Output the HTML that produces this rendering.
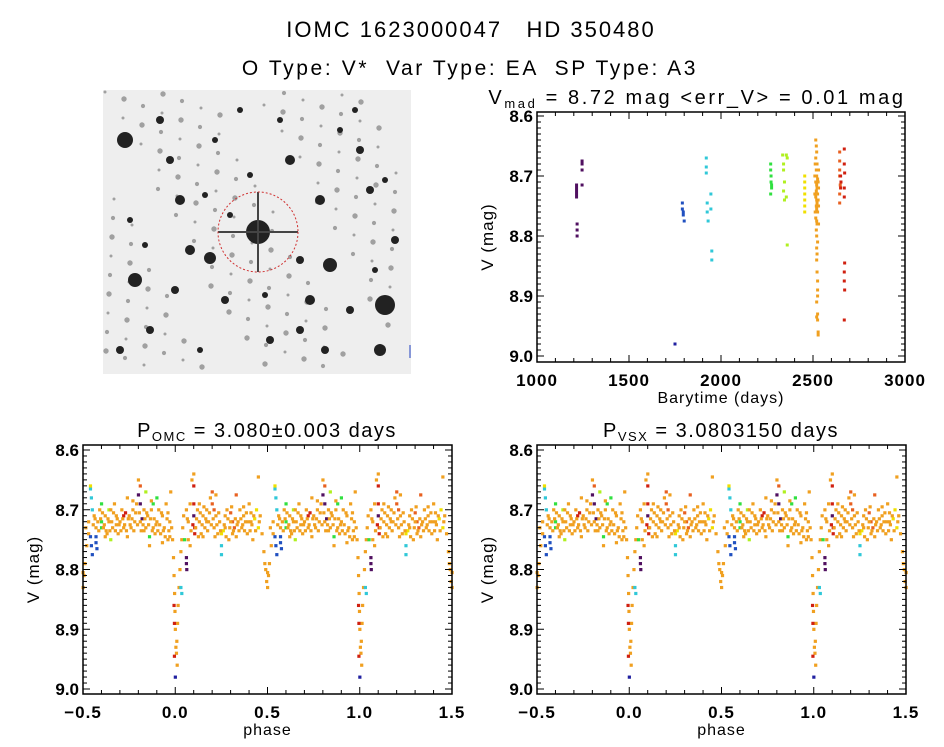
<!DOCTYPE html>
<html><head><meta charset="utf-8">
<style>
body{margin:0;background:#fff;}
svg{display:block;font-family:"Liberation Sans","DejaVu Sans",sans-serif;}
</style></head>
<body>
<svg id="c" width="944" height="747" viewBox="0 0 944 747">
<rect width="944" height="747" fill="#fff"/>
<text x="471" y="37" text-anchor="middle" font-size="22" letter-spacing="2">IOMC 1623000047 &#160;&#160;HD 350480</text>
<text x="470" y="75" text-anchor="middle" font-size="21" letter-spacing="2.6">O Type: V* &#160;Var Type: EA &#160;SP Type: A3</text>
<g id="img"></g>
<g id="p1"></g>
<g id="p2"></g>
<g id="p3"></g>
</svg>
<script>
const NS="http://www.w3.org/2000/svg";
const palette=["#2020a0","#2050c0","#30c8d8","#30e040","#b0f020","#f0e000","#f0a020","#e86020","#d02010","#501060"];
// time series: [time, mag, colorIndex]
const timeData=[
[1215,8.715,9],[1215,8.72,9],[1215,8.725,9],[1215,8.73,9],[1215,8.735,9],[1218,8.78,9],[1218,8.79,9],[1218,8.80,9],[1245,8.675,9],[1245,8.68,9],[1245,8.69,9],[1245,8.715,9],
[1750,8.98,0],
[1790,8.745,1],[1790,8.755,1],[1795,8.76,1],[1795,8.765,1],[1800,8.775,1],
[1920,8.67,2],[1920,8.685,2],[1920,8.695,2],[1925,8.745,2],[1925,8.76,2],[1930,8.775,2],[1945,8.73,2],[1945,8.755,2],[1950,8.825,2],[1950,8.84,2],
[2270,8.68,3],[2270,8.69,3],[2272,8.70,3],[2272,8.71,3],[2275,8.715,3],[2275,8.72,3],[2270,8.73,3],
[2335,8.665,4],[2340,8.68,4],[2340,8.69,4],[2345,8.71,4],[2340,8.725,4],[2345,8.74,4],[2355,8.665,4],[2360,8.67,4],[2355,8.735,4],[2360,8.815,4],
[2455,8.70,5],[2455,8.71,5],[2455,8.72,5],[2455,8.73,5],[2455,8.74,5],[2455,8.75,5],[2455,8.76,5],
[2515,8.64,6],[2518,8.65,6],[2520,8.66,6],[2515,8.67,6],[2522,8.68,6],[2518,8.69,6],[2520,8.70,6],[2525,8.705,6],[2515,8.71,6],[2520,8.715,6],[2522,8.72,6],[2518,8.725,6],[2525,8.73,6],[2515,8.735,6],[2520,8.74,6],[2522,8.745,6],[2518,8.75,6],[2520,8.755,6],[2525,8.76,6],[2515,8.77,6],[2520,8.775,6],[2522,8.78,6],[2518,8.79,6],[2520,8.80,6],[2525,8.81,6],[2520,8.82,6],[2522,8.83,6],[2520,8.84,6],[2522,8.86,6],[2525,8.875,6],[2525,8.89,6],[2525,8.90,6],[2520,8.91,6],[2525,8.93,6],[2520,8.935,6],[2525,8.94,6],[2528,8.96,6],[2528,8.965,6],[2530,8.69,6],[2530,8.72,6],[2530,8.75,6],[2510,8.70,6],[2510,8.73,6],[2512,8.68,6],[2528,8.71,6],[2528,8.74,6],[2512,8.76,6],[2530,8.78,6],
[2645,8.66,7],[2645,8.675,7],[2645,8.69,7],[2645,8.70,7],[2648,8.715,7],[2645,8.73,7],[2645,8.745,7],[2650,8.70,8],[2652,8.71,8],[2650,8.72,8],
[2670,8.655,8],[2670,8.68,8],[2672,8.695,8],[2670,8.72,8],[2670,8.735,8],[2672,8.845,8],[2670,8.86,8],[2670,8.875,8],[2672,8.89,8],[2670,8.94,8]
];
// phase-folded data: [phase(0..1), mag, colorIndex]
const phaseData=[
[0.985,8.75,6],[0.99,8.78,6],[0.993,8.81,6],[0.996,8.84,6],[0.998,8.87,6],[0.0,8.90,6],[0.003,8.93,6],[0.006,8.94,6],[0.008,8.92,6],[0.01,8.96,6],[0.012,8.89,6],[0.015,8.86,6],[0.02,8.83,6],[0.025,8.80,6],[0.03,8.77,6],[0.035,8.75,6],[0.04,8.73,6],[0.045,8.71,6],
[0.0,8.98,0],[0.995,8.945,8],[0.995,8.89,8],[0.993,8.86,8],[0.06,8.78,9],[0.06,8.79,9],[0.062,8.80,9],[0.03,8.83,2],[0.035,8.84,2],[0.05,8.75,3],
[0.47,8.74,6],[0.48,8.77,6],[0.49,8.80,6],[0.495,8.82,6],[0.5,8.83,6],[0.505,8.81,6],[0.51,8.79,6],[0.52,8.76,6],[0.53,8.74,6],[0.485,8.79,6],[0.5,8.805,6],
[0.54,8.665,2],[0.545,8.68,2],[0.55,8.70,2],[0.54,8.745,1],[0.545,8.76,1],[0.55,8.775,1],[0.57,8.745,1],[0.57,8.755,1],[0.575,8.765,1],[0.54,8.66,5],[0.6,8.69,3],[0.6,8.72,3],[0.6,8.73,3],[0.64,8.70,4],[0.65,8.75,4],
[0.1,8.66,8],[0.1,8.69,8],[0.1,8.71,9],[0.105,8.73,8],[0.105,8.74,8],[0.095,8.725,8],[0.2,8.67,7],[0.2,8.69,7],[0.21,8.70,7],[0.3,8.705,7],[0.31,8.72,7],[0.32,8.73,7],[0.33,8.675,7],[0.72,8.71,8],[0.73,8.705,8],[0.8,8.675,9],[0.81,8.69,9],[0.82,8.715,9],[0.81,8.66,7],
[0.25,8.74,5],[0.26,8.735,5],[0.25,8.76,2],[0.25,8.775,2],[0.44,8.70,5],[0.45,8.73,5],[0.43,8.715,5],[0.88,8.69,3],[0.9,8.68,3],[0.84,8.67,4],[0.86,8.745,3],
[0.06,8.70,6],[0.07,8.72,6],[0.08,8.69,6],[0.09,8.65,6],[0.1,8.64,6],[0.12,8.70,6],[0.13,8.72,6],[0.14,8.74,6],[0.15,8.71,6],[0.16,8.73,6],[0.17,8.70,6],[0.18,8.72,6],[0.19,8.68,6],[0.21,8.73,6],[0.22,8.71,6],[0.23,8.74,6],[0.24,8.72,6],[0.27,8.73,6],[0.28,8.70,6],[0.29,8.75,6],[0.3,8.72,6],[0.31,8.74,6],[0.34,8.72,6],[0.35,8.70,6],[0.36,8.73,6],[0.37,8.71,6],[0.38,8.72,6],[0.39,8.74,6],[0.4,8.69,6],[0.41,8.72,6],[0.42,8.75,6],[0.45,8.645,6],[0.46,8.71,6],
[0.56,8.71,6],[0.58,8.72,6],[0.59,8.70,6],[0.61,8.73,6],[0.62,8.71,6],[0.63,8.74,6],[0.64,8.72,6],[0.65,8.70,6],[0.66,8.73,6],[0.67,8.69,6],[0.68,8.71,6],[0.69,8.74,6],[0.7,8.72,6],[0.71,8.70,6],[0.72,8.73,6],[0.74,8.68,6],[0.75,8.71,6],[0.76,8.73,6],[0.77,8.70,6],[0.78,8.72,6],[0.79,8.69,6],[0.8,8.65,6],[0.81,8.72,6],[0.83,8.70,6],[0.84,8.73,6],[0.85,8.71,6],[0.86,8.76,6],[0.87,8.70,6],[0.88,8.73,6],[0.89,8.74,6],[0.9,8.72,6],[0.91,8.70,6],[0.92,8.74,6],[0.93,8.71,6],[0.94,8.73,6],[0.95,8.69,6],[0.96,8.75,6],[0.97,8.72,6],[0.975,8.67,6],
[0.07,8.75,6],[0.08,8.76,6],[0.11,8.73,6],[0.13,8.69,6],[0.15,8.745,6],[0.17,8.72,6],[0.22,8.675,6],[0.27,8.71,6],[0.33,8.745,6],[0.37,8.695,6],[0.41,8.705,6],[0.57,8.73,6],[0.62,8.745,6],[0.68,8.725,6],[0.74,8.745,6],[0.77,8.685,6],[0.83,8.735,6],[0.87,8.685,6],[0.93,8.755,6],[0.955,8.715,6],[0.965,8.735,6],[0.53,8.72,6],[0.515,8.73,6],
[0.065,8.715,6],[0.085,8.735,6],[0.115,8.715,6],[0.125,8.745,6],[0.135,8.705,6],[0.145,8.725,6],[0.155,8.695,6],[0.165,8.715,6],[0.175,8.735,6],[0.185,8.705,6],[0.195,8.725,6],[0.205,8.715,6],[0.215,8.745,6],[0.225,8.725,6],[0.235,8.705,6],[0.245,8.735,6],[0.265,8.725,6],[0.275,8.745,6],[0.285,8.715,6],[0.295,8.73,6],[0.305,8.695,6],[0.315,8.735,6],[0.325,8.715,6],[0.335,8.725,6],[0.345,8.735,6],[0.355,8.715,6],[0.365,8.725,6],[0.375,8.735,6],[0.385,8.705,6],[0.395,8.72,6],[0.405,8.735,6],[0.415,8.725,6],[0.425,8.71,6],[0.435,8.735,6],[0.455,8.72,6],
[0.555,8.725,6],[0.565,8.715,6],[0.585,8.735,6],[0.595,8.715,6],[0.605,8.705,6],[0.615,8.725,6],[0.625,8.735,6],[0.635,8.715,6],[0.645,8.735,6],[0.655,8.72,6],[0.665,8.705,6],[0.675,8.735,6],[0.685,8.715,6],[0.695,8.725,6],[0.705,8.735,6],[0.715,8.715,6],[0.725,8.725,6],[0.735,8.735,6],[0.745,8.715,6],[0.755,8.725,6],[0.765,8.715,6],[0.775,8.735,6],[0.785,8.705,6],[0.795,8.725,6],[0.805,8.705,6],[0.815,8.735,6],[0.825,8.725,6],[0.835,8.715,6],[0.845,8.705,6],[0.855,8.725,6],[0.865,8.715,6],[0.875,8.735,6],[0.885,8.715,6],[0.895,8.725,6],[0.905,8.735,6],[0.915,8.725,6],[0.925,8.705,6],[0.935,8.735,6],[0.945,8.745,6],[0.96,8.705,6],[0.97,8.745,6],[0.98,8.73,6]
];
const timeTicks=[1000,1500,2000,2500,3000];
const phaseTicks=[-0.5,0.0,0.5,1.0,1.5];
const magTicks=[8.6,8.7,8.8,8.9,9.0];

function el(tag,attrs,parent){const e=document.createElementNS(NS,tag);for(const k in attrs)e.setAttribute(k,attrs[k]);parent.appendChild(e);return e;}

function axes(g,box,xr,yr,xt,xfmt,title,sub,xlabel,nm,tx,tls){
  const sx=v=>box.x0+(v-xr[0])/(xr[1]-xr[0])*(box.x1-box.x0);
  const sy=v=>box.ya+(v-yr[0])/(yr[1]-yr[0])*(box.yb-box.ya);
  return {sx,sy,draw(){
    const r=el('rect',{x:box.x0,y:box.y0,width:box.x1-box.x0,height:box.y1-box.y0,fill:'none',stroke:'#000','stroke-width':1.5},g);
    
    
    const n=xt.length;
    for(let i=0;i<n;i++){const v=xt[i],x=sx(v);
      el('line',{x1:x,x2:x,y1:box.y1,y2:box.y1-7,stroke:'#000'},g);el('line',{x1:x,x2:x,y1:box.y0,y2:box.y0+7,stroke:'#000'},g);
      const t=el('text',{x:x,y:box.y1+24,'text-anchor':'middle','font-size':17,'font-weight':'bold','letter-spacing':1},g);t.textContent=xfmt(v);
      
      
      if(i<n-1){const st=(xt[i+1]-v)/5;for(let k=1;k<5;k++){const xx=sx(v+st*k);el('line',{x1:xx,x2:xx,y1:box.y1,y2:box.y1-4,stroke:'#000'},g);el('line',{x1:xx,x2:xx,y1:box.y0,y2:box.y0+4,stroke:'#000'},g);}}
    }
    for(let i=0;i<magTicks.length;i++){const v=magTicks[i],y=sy(v);
      el('line',{x1:box.x0,x2:box.x0+7,y1:y,y2:y,stroke:'#000'},g);el('line',{x1:box.x1,x2:box.x1-7,y1:y,y2:y,stroke:'#000'},g);
      const t=el('text',{x:box.x0-4,y:y+6,'text-anchor':'end','font-size':17,'font-weight':'bold'},g);t.textContent=v.toFixed(1);
      
      
      if(i<magTicks.length-1){for(let k=1;k<10;k++){const yy=sy(v+0.01*k);el('line',{x1:box.x0,x2:box.x0+4,y1:yy,y2:yy,stroke:'#000'},g);el('line',{x1:box.x1,x2:box.x1-4,y1:yy,y2:yy,stroke:'#000'},g);}}
    }
    const yl=el('text',{x:0,y:0,transform:`translate(${box.x0-44},${(box.y0+box.y1)/2}) rotate(-90)`,'text-anchor':'middle','font-size':17,'letter-spacing':1},g);yl.textContent='V (mag)';
    
    
    const xl=el('text',{x:(box.x0+box.x1)/2,y:box.y1+41,'text-anchor':'middle','font-size':16,'letter-spacing':1},g);xl.textContent=xlabel;
    
    
    const tt=el('text',{x:tx,y:box.y0-8,'text-anchor':'middle','font-size':20,'letter-spacing':tls},g);
    
    
    const a=el('tspan',{},tt);a.textContent=title[0];
    const b=el('tspan',{'font-size':13,dy:4},tt);b.textContent=sub;
    const c=el('tspan',{dy:-4},tt);c.textContent=title[1];
  }};
}

// light curve
(function(){
  const g=document.getElementById('p1');
  const A=axes(g,{x0:537,x1:905,y0:112,y1:362,ya:116,yb:356},[1000,3000],[8.6,9.0],timeTicks,v=>String(v),['V',' = 8.72 mag <err_V> = 0.01 mag'],'mad','Barytime (days)','light-curve',697,2.6);
  for(const d of timeData){const r=el('rect',{x:A.sx(d[0])-1.5,y:A.sy(d[1])-1.5,width:3,height:3,fill:palette[d[2]]},g);
    
    }
  A.draw();
})();
function phasePlot(id,x0,title,sub,nm){
  const g=document.getElementById(id);
  const A=axes(g,{x0:x0,x1:x0+369,y0:445,y1:694,ya:450,yb:689},[-0.5,1.5],[8.6,9.0],phaseTicks,v=>(v<0?'\u2212':'')+Math.abs(v).toFixed(1),title,sub,'phase',nm,x0+184,1.5);
  for(const d of phaseData){for(const off of [-1,0,1]){const p=d[0]+off;if(p<-0.5||p>1.5)continue;
    const r=el('rect',{x:A.sx(p)-1.5,y:A.sy(d[1])-1.5,width:3.2,height:3.2,fill:palette[d[2]]},g);
    
    }}
  A.draw();
}
phasePlot('p2',83,['P',' = 3.080\u00b10.003 days'],'OMC','phase-omc');
phasePlot('p3',537,['P',' = 3.0803150 days'],'VSX','phase-vsx');

// star field image
const starX=[258,125,160,135,190,225,300,290,330,360,385,210,150,180,240,270,320,350,395,130,170,205,280,310,340,370,380,120,145,200,230,265,300,355,385,175,215,250,325,375];
const starY=[232,140,120,280,250,300,260,160,265,150,305,258,330,200,110,340,200,310,240,220,160,195,120,300,130,190,350,350,245,350,215,295,330,110,180,290,140,175,350,270];
const starR=[12,8,4,7,5,4,4,5,7,4,10,6,4,5,3,4,5,4,4,3,4,3,3,5,3,4,6,4,3,3,3,3,4,3,3,4,3,3,4,3];
(function(){
  const g=document.getElementById('img');
  el('rect',{x:103,y:90,width:308,height:284,fill:'#eeeeee'},g);
  for(let i=0;i<160;i++){const x=105+((i*53)%300),y=92+((i*97)%278);el('circle',{cx:x,cy:y,r:1.5+(i%3)*0.6,fill:'#a0a0a0'},g);}
  for(let i=0;i<starX.length;i++){const c=el('circle',{cx:starX[i],cy:starY[i],r:starR[i],fill:'#222'},g);
    
    }
  el('line',{x1:218,x2:298,y1:232,y2:232,stroke:'#444','stroke-width':2},g);
  el('line',{x1:258,x2:258,y1:192,y2:272,stroke:'#444','stroke-width':2},g);
  el('circle',{cx:258,cy:232,r:40,fill:'none',stroke:'#d03030','stroke-dasharray':'2,2'},g);
  el('line',{x1:410,x2:410,y1:345,y2:358,stroke:'#2040c0'},g);
})();
</script>
</body></html>
